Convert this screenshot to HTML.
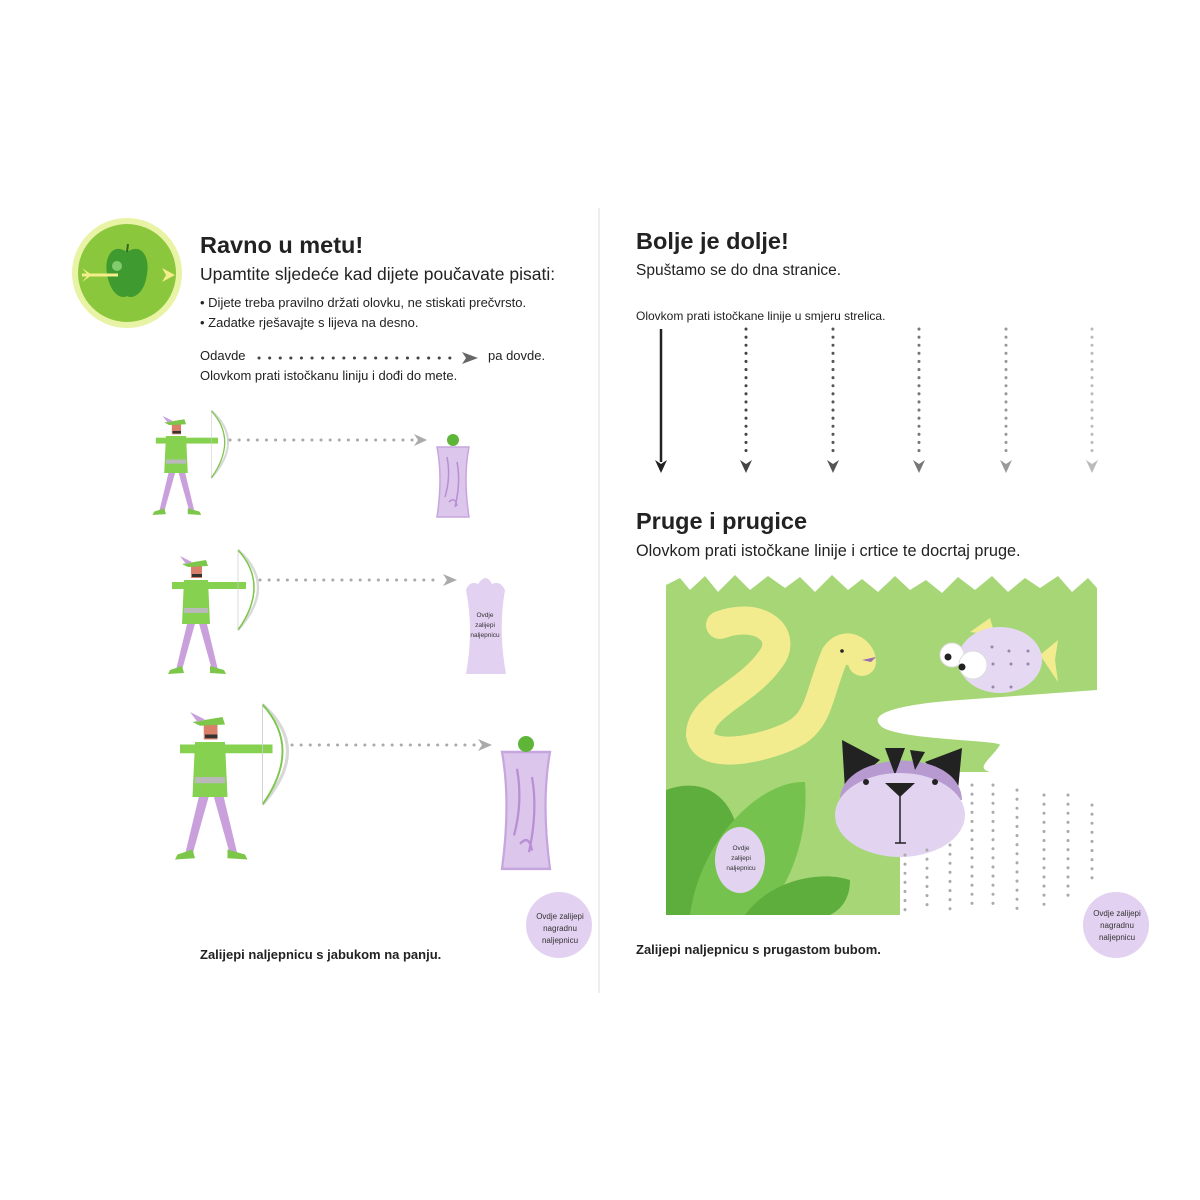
<!DOCTYPE html>
<html><head><meta charset="utf-8"><style>
body{margin:0;background:#fff;}
svg{display:block;font-family:"Liberation Sans",sans-serif;}
</style></head><body>
<svg width="1200" height="1200" viewBox="0 0 1200 1200" xmlns="http://www.w3.org/2000/svg">
<defs>
<g id="archer">
 <polygon points="-8,40 0,40 -14,90 -20,90" fill="#c9a0dc"/>
 <polygon points="2,40 10,40 22,90 16,90" fill="#c9a0dc"/>
 <polygon points="-26,90 -14,86 -12,93 -28,94" fill="#7cc64a"/>
 <polygon points="14,86 28,90 30,94 14,93" fill="#7cc64a"/>
 <polygon points="-12,0 12,0 14,44 -14,44" fill="#86d14f"/>
 <rect x="-12" y="28" width="24" height="5" fill="#b9b9b9"/>
 <rect x="-24" y="2" width="14" height="7" fill="#86d14f"/>
 <rect x="10" y="2" width="40" height="7" fill="#86d14f"/>
 <rect x="-5" y="-16" width="11" height="14" fill="#d9806a"/>
 <rect x="-4" y="-6" width="10" height="3" fill="#333"/>
 <polygon points="-14,-16 10,-20 12,-14 -8,-13" fill="#7cc64a"/>
 <polygon points="-16,-24 -4,-18 -10,-16" fill="#c9a0dc"/>
 <path d="M42,-30 Q82,5 42,50" fill="none" stroke="#d8d8d8" stroke-width="2.5"/>
 <path d="M42,-30 Q74,5 42,50" fill="none" stroke="#7cc64a" stroke-width="1.5"/>
 <line x1="42" y1="-30" x2="42" y2="50" stroke="#ccc" stroke-width="0.7"/>
</g>
<g id="stump">
 <path d="M-16,0 L16,0 Q10,30 16,70 L-16,70 Q-10,30 -16,0Z" fill="#dcc6ec" stroke="#c6a6de" stroke-width="1.5"/>
 <path d="M-6,10 Q-2,30 -8,50 M4,15 Q8,35 2,60 M-4,55 q6,-6 8,4" fill="none" stroke="#b88fd2" stroke-width="1.5"/>
</g>
</defs>

<line x1="599" y1="208" x2="599" y2="993" stroke="#ddd" stroke-width="1"/>

<circle cx="127" cy="273" r="55" fill="#e9f3a5"/>
<circle cx="127" cy="273" r="49" fill="#8bc73c"/>
<path d="M127,252 C112,242 104,258 107,274 C110,292 120,300 127,296 C134,300 145,292 147,274 C150,258 142,242 127,252Z" fill="#3f9a2f"/>
<line x1="127" y1="252" x2="128" y2="244" stroke="#2b6b20" stroke-width="2"/>
<circle cx="117" cy="266" r="5" fill="#9fe08a" opacity="0.7"/>
<line x1="82" y1="275" x2="118" y2="275" stroke="#f3ed8a" stroke-width="3"/>
<polygon points="82,268 92,275 82,282 88,275" fill="#f3ed8a"/>
<polygon points="162,268 175,275 162,282 166,275" fill="#f3ed8a"/>

<text x="200" y="253" font-size="23.5" font-weight="bold" fill="#222">Ravno u metu!</text>
<text x="200" y="280" font-size="17.5" fill="#222">Upamtite sljedeće kad dijete poučavate pisati:</text>
<text x="200" y="307" font-size="13" fill="#222">• Dijete treba pravilno držati olovku, ne stiskati prečvrsto.</text>
<text x="200" y="327" font-size="13" fill="#222">• Zadatke rješavajte s lijeva na desno.</text>
<text x="200" y="360" font-size="13" fill="#222">Odavde</text>
<line x1="259" y1="358" x2="458" y2="358" stroke="#444" stroke-width="3" stroke-dasharray="0.1 10.5" stroke-linecap="round"/>
<polygon points="462,352 478,358 462,364 466,358" fill="#666"/>
<text x="488" y="360" font-size="13" fill="#222">pa dovde.</text>
<text x="200" y="380" font-size="13" fill="#222">Olovkom prati istočkanu liniju i dođi do mete.</text>

<use href="#archer" transform="translate(176,436) scale(0.84)"/>
<line x1="230" y1="440" x2="415" y2="440" stroke="#aaa" stroke-width="3" stroke-dasharray="0.1 9" stroke-linecap="round"/>
<polygon points="414,434 427,440 414,446 418,440" fill="#aaa"/>
<use href="#stump" transform="translate(453,447) scale(1,1)"/>
<circle cx="453" cy="440" r="6" fill="#5fb538"/>

<use href="#archer" transform="translate(196,580) scale(1.0)"/>
<line x1="260" y1="580" x2="440" y2="580" stroke="#aaa" stroke-width="3" stroke-dasharray="0.1 9" stroke-linecap="round"/>
<polygon points="443,574 457,580 443,586 447,580" fill="#aaa"/>
<path d="M466,590 Q470,580 478,584 Q486,572 492,584 Q500,580 505,590 Q498,630 506,674 L466,674 Q474,630 466,590Z" fill="#e3d1f1"/>
<text font-size="6.5" fill="#333" text-anchor="middle"><tspan x="485" y="617">Ovdje</tspan><tspan x="485" y="627">zalijepi</tspan><tspan x="485" y="637">naljepnicu</tspan></text>

<use href="#archer" transform="translate(210,742) scale(1.25)"/>
<line x1="292" y1="745" x2="476" y2="745" stroke="#aaa" stroke-width="3" stroke-dasharray="0.1 9" stroke-linecap="round"/>
<polygon points="478,739 492,745 478,751 482,745" fill="#aaa"/>
<use href="#stump" transform="translate(526,752) scale(1.5,1.67)"/>
<circle cx="526" cy="744" r="8" fill="#5fb538"/>

<circle cx="559" cy="925" r="33" fill="#e3d1f1"/>
<text font-size="8" fill="#333" text-anchor="middle"><tspan x="560" y="919">Ovdje zalijepi</tspan><tspan x="560" y="931">nagradnu</tspan><tspan x="560" y="943">naljepnicu</tspan></text>
<text x="200" y="959" font-size="13" font-weight="bold" fill="#222">Zalijepi naljepnicu s jabukom na panju.</text>

<text x="636" y="249" font-size="23.5" font-weight="bold" fill="#222">Bolje je dolje!</text>
<text x="636" y="275" font-size="15.5" fill="#222">Spuštamo se do dna stranice.</text>
<text x="636" y="320" font-size="12" fill="#222">Olovkom prati istočkane linije u smjeru strelica.</text>

<line x1="661" y1="329" x2="661" y2="462" stroke="#222" stroke-width="2.5"/>
<polygon points="655,460 661,473 667,460 661,464" fill="#222"/>
<g stroke-width="3" stroke-dasharray="0.1 8" stroke-linecap="round">
<line x1="746" y1="329" x2="746" y2="458" stroke="#444"/>
<line x1="833" y1="329" x2="833" y2="458" stroke="#555"/>
<line x1="919" y1="329" x2="919" y2="458" stroke="#777"/>
<line x1="1006" y1="329" x2="1006" y2="458" stroke="#999"/>
<line x1="1092" y1="329" x2="1092" y2="458" stroke="#bbb"/>
</g>
<polygon points="740,460 746,473 752,460 746,464" fill="#444"/>
<polygon points="827,460 833,473 839,460 833,464" fill="#555"/>
<polygon points="913,460 919,473 925,460 919,464" fill="#777"/>
<polygon points="1000,460 1006,473 1012,460 1006,464" fill="#999"/>
<polygon points="1086,460 1092,473 1098,460 1092,464" fill="#bbb"/>

<text x="636" y="529" font-size="23.5" font-weight="bold" fill="#222">Pruge i prugice</text>
<text x="636" y="556" font-size="16.3" fill="#222">Olovkom prati istočkane linije i crtice te docrtaj pruge.</text>

<path d="M666,915 L666,585 L680,578 L690,590 L705,576 L718,592 L735,575 L750,590 L768,576 L785,588 L800,577 L815,592 L832,575 L848,590 L862,579 L878,592 L895,576 L910,590 L926,580 L942,593 L958,577 L975,590 L992,576 L1008,592 L1025,578 L1040,588 L1058,576 L1072,592 L1088,578 L1097,588 L1097,915 Z" fill="#a6d676"/>
<path d="M1097,690 L960,700 C890,705 870,715 880,725 C890,740 1000,740 1000,745 C990,760 975,768 990,772 L1097,772 Z" fill="#fff"/>
<path d="M960,772 L1097,772 L1097,915 L900,915 L900,820 C920,800 930,780 960,772Z" fill="#fff"/>
<path d="M666,790 C720,770 760,820 730,915 L666,915Z" fill="#5eae3d"/>
<path d="M690,915 C700,840 760,780 805,782 C810,850 780,900 760,915Z" fill="#76c24e"/>
<path d="M745,915 C770,880 820,870 850,880 C850,900 840,910 830,915Z" fill="#5eae3d"/>
<path d="M720,625 C760,610 790,635 770,660 C745,695 700,705 700,735 C705,765 780,745 800,730 C820,715 820,690 835,655 C845,640 862,650 862,662" fill="none" stroke="#f3ec8f" stroke-width="28" stroke-linecap="round"/>
<ellipse cx="845" cy="652" rx="18" ry="13" fill="#f3ec8f"/>
<circle cx="842" cy="651" r="1.8" fill="#222"/>
<path d="M862,660 l14,-3 l-5,5 z" fill="#9a6fb0"/>
<polygon points="1040,655 1058,640 1055,660 1058,682" fill="#f3ec8f"/>
<polygon points="970,632 990,618 995,635" fill="#f3ec8f"/>
<ellipse cx="1000" cy="660" rx="42" ry="33" fill="#e4d8f2"/>
<circle cx="952" cy="655" r="12" fill="#fff" stroke="#ddd"/>
<circle cx="948" cy="657" r="3.5" fill="#222"/>
<circle cx="973" cy="665" r="14" fill="#fff" stroke="#ddd"/>
<circle cx="962" cy="667" r="3.5" fill="#222"/>
<g fill="#9b86a8">
<circle cx="992" cy="647" r="1.5"/><circle cx="1009" cy="651" r="1.5"/><circle cx="1028" cy="651" r="1.5"/>
<circle cx="993" cy="664" r="1.5"/><circle cx="1011" cy="664" r="1.5"/><circle cx="1028" cy="664" r="1.5"/>
<circle cx="993" cy="687" r="1.5"/><circle cx="1011" cy="687" r="1.5"/>
</g>
<polygon points="842,740 845,790 880,760" fill="#222"/>
<polygon points="962,748 958,790 925,762" fill="#222"/>
<path d="M840,800 C840,750 960,745 962,800 Z" fill="#b79ad0"/>
<polygon points="885,748 895,775 905,748" fill="#222"/>
<polygon points="910,750 915,770 925,752" fill="#222"/>
<ellipse cx="900" cy="815" rx="65" ry="42" fill="#e2d4f0"/>
<circle cx="866" cy="782" r="3" fill="#222"/><circle cx="935" cy="782" r="3" fill="#222"/>
<polygon points="885,783 915,783 900,797" fill="#222"/>
<line x1="900" y1="795" x2="900" y2="843" stroke="#222" stroke-width="1.5"/>
<line x1="895" y1="843" x2="906" y2="843" stroke="#222" stroke-width="1.5"/>
<g stroke="#aaa" stroke-width="3" stroke-dasharray="0.1 9" stroke-linecap="round">
<line x1="905" y1="855" x2="905" y2="912"/><line x1="927" y1="850" x2="927" y2="912"/>
<line x1="950" y1="845" x2="950" y2="912"/><line x1="972" y1="785" x2="972" y2="912"/>
<line x1="993" y1="785" x2="993" y2="912"/><line x1="1017" y1="790" x2="1017" y2="912"/>
<line x1="1044" y1="795" x2="1044" y2="912"/><line x1="1068" y1="795" x2="1068" y2="900"/>
<line x1="1092" y1="805" x2="1092" y2="880"/>
</g>
<ellipse cx="740" cy="860" rx="25" ry="33" fill="#e2d4f0"/>
<text font-size="6.5" fill="#333" text-anchor="middle"><tspan x="741" y="850">Ovdje</tspan><tspan x="741" y="860">zalijepi</tspan><tspan x="741" y="870">naljepnicu</tspan></text>

<circle cx="1116" cy="925" r="33" fill="#e3d1f1"/>
<text font-size="8" fill="#333" text-anchor="middle"><tspan x="1117" y="916">Ovdje zalijepi</tspan><tspan x="1117" y="928">nagradnu</tspan><tspan x="1117" y="940">naljepnicu</tspan></text>
<text x="636" y="954" font-size="13" font-weight="bold" fill="#222">Zalijepi naljepnicu s prugastom bubom.</text>
</svg>
</body></html>
